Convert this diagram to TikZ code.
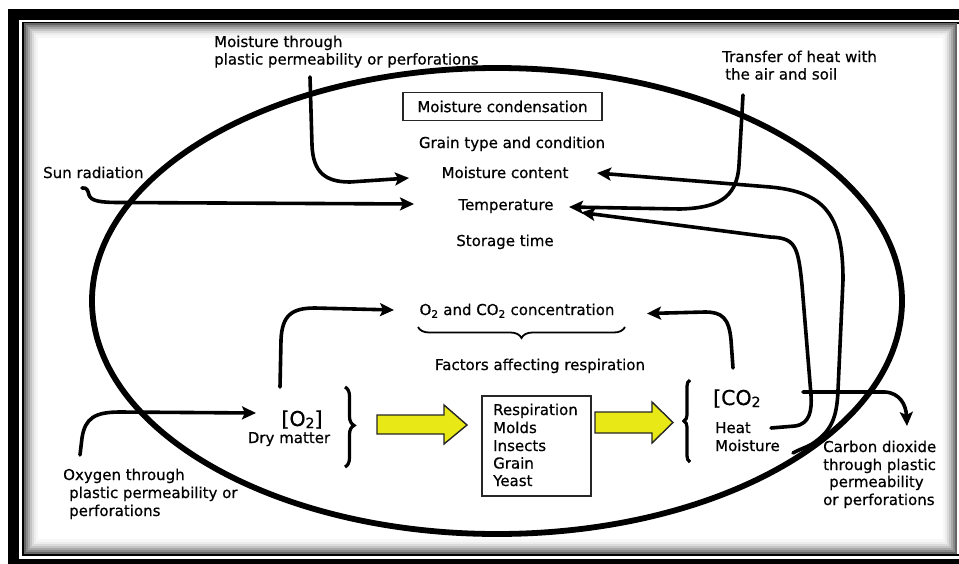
\documentclass[tikz,border=0pt]{standalone}
\usepackage{fontspec}
\setmainfont{DejaVu Sans}[UprightFeatures={FakeBold=0.6}]
\usetikzlibrary{arrows.meta,decorations.pathreplacing}
\definecolor{arrowyellow}{RGB}{232,232,22}
\tikzset{
  lbl/.style={inner sep=0pt, font=\fontsize{15}{17.7}\selectfont},
  biglbl/.style={inner sep=0pt, font=\fontsize{20.5}{22}\selectfont},
  conn/.style={line width=3.6pt, line cap=round, line join=round,
    -{Stealth[length=14pt,width=13pt,inset=3pt]}},
  yarrow/.style={fill=arrowyellow, draw=black!85, line width=1.4pt, line join=miter},
  boxframe/.style={draw=black!85, line width=1.6pt}
}
\begin{document}
\begin{tikzpicture}[x=1pt,y=-1pt]
\useasboundingbox (0,0) rectangle (959,563);
\clip (0,0) rectangle (959,563);
\fill[white] (0,0) rectangle (959,563);
% frame
\draw[line width=11pt, black] (13.5,14) rectangle (975,564.5);
\draw[line width=2pt, black] (23,22.5) rectangle (962,554.5);
\foreach \i/\c in {0/60,2/46,4/34,6/23,8/14,10/7,12/3}{
  \draw[line width=2.2pt, black!\c] (25+\i,24.5+\i) rectangle (956-\i,552.5-\i);
}
% ellipse
\draw[line width=5.8pt] (497,301) ellipse [x radius=405, y radius=233];

% text nodes
\node[lbl, anchor=base west] (mtop1) at (214,47) {Moisture through};
\node[lbl, anchor=base west] (mtop2) at (214,64.5) {plastic permeability or perforations};
\node[lbl, anchor=base west] (heat1) at (722,62) {Transfer of heat with};
\node[lbl, anchor=base west] (heat2) at (725,79.5) {the air and soil};
\node[lbl, boxframe, inner xsep=9pt, inner ysep=5pt, minimum width=199pt, minimum height=28pt] (cond) at (502.5,106.5) {Moisture condensation};
\node[lbl, anchor=base] (grain) at (512,148) {Grain type and condition};
\node[lbl, anchor=base] (mc) at (505,178) {Moisture content};
\node[lbl, anchor=base] (temp) at (506,210) {Temperature};
\node[lbl, anchor=base] (stor) at (505,246) {Storage time};
\node[lbl, anchor=base west] (sun) at (43,178) {Sun radiation};
\node[lbl, anchor=base] (conc) at (517,315) {O\textsubscript{2} and CO\textsubscript{2} concentration};
\node[lbl, anchor=base] (fact) at (540,370) {Factors affecting respiration};
\node[biglbl, anchor=base] (o2) at (302,426) {[O\raisebox{-2pt}{\fontsize{14}{14}\selectfont 2}]};
\node[lbl, anchor=base] (dry) at (289,443) {Dry matter};
\node[lbl, boxframe, anchor=north west, minimum width=109pt, minimum height=100pt, inner sep=0pt] (resp) at (481,395) {};
\node[lbl, anchor=base west] (r1) at (493,415) {Respiration};
\node[lbl, anchor=base west] (r2) at (493,433) {Molds};
\node[lbl, anchor=base west] (r3) at (493,451) {Insects};
\node[lbl, anchor=base west] (r4) at (493,468.5) {Grain};
\node[lbl, anchor=base west] (r5) at (493,486) {Yeast};
\node[biglbl, anchor=base west] (co2) at (713,405) {[CO\raisebox{-2pt}{\fontsize{14}{14}\selectfont 2}};
\node[lbl, anchor=base west] (heat) at (715,433) {Heat};
\node[lbl, anchor=base west] (moist) at (715,451) {Moisture};
\node[lbl, anchor=base west] (cd1) at (823,452) {Carbon dioxide};
\node[lbl, anchor=base west] (cd2) at (823,470) {through plastic};
\node[lbl, anchor=base west] (cd3) at (829,487) {permeability};
\node[lbl, anchor=base west] (cd4) at (823,505) {or perforations};
\node[lbl, anchor=base west] (ox1) at (63,480) {Oxygen through};
\node[lbl, anchor=base west] (ox2) at (69,498) {plastic permeability or};
\node[lbl, anchor=base west] (ox3) at (69,516) {perforations};

% braces
\draw[line width=1.8pt, decorate, decoration={brace, amplitude=11pt, mirror, aspect=0.5}] (418,327) -- (625,327);
\draw[line width=3.2pt, decorate, decoration={brace, amplitude=9pt, aspect=0.48}] (345,387) -- (345,467);
\draw[line width=3.2pt, decorate, decoration={brace, amplitude=6pt, aspect=0.5}] (690,462) -- (690,380);

% yellow arrows
\draw[yarrow] (377,415) -- (444,415) -- (444,405) -- (467,425) -- (444,444) -- (444,434) -- (377,434) -- cycle;
\draw[yarrow] (595,412) -- (652,412) -- (652,402) -- (673,422.5) -- (652,443) -- (652,433) -- (595,433) -- cycle;

% named start/end points
\coordinate (mtopS) at (310,77);
\coordinate (mcL) at (409,178);
\coordinate (sunS) at (82,188);
\coordinate (tempL) at (414,204);
\coordinate (heatS) at (743,95);
\coordinate (tempR1) at (569,207);
\coordinate (moistS) at (793,453);
\coordinate (mcR) at (597,173);
\coordinate (heatE) at (771,428);
\coordinate (tempR2) at (581,212.5);
\coordinate (co2S) at (803,392);
\coordinate (cdT) at (907,426);
\coordinate (o2S) at (280,387);
\coordinate (concL) at (394,310);
\coordinate (co2U) at (733,368);
\coordinate (concR) at (647,313.5);
\coordinate (oxS) at (80,455);
\coordinate (o2L) at (256,413);

% connectors
\draw[conn] (mtopS) -- (312,145) .. controls (313,172) and (325,182) .. (350,182) -- (mcL);
\draw[conn] (sunS) .. controls (87,187) and (88,191) .. (89,195) .. controls (91,201) and (100,202.5) .. (120,202.5) -- (tempL);
\draw[conn] (heatS) -- (739,165) .. controls (737,200) and (715,208) .. (680,209) -- (tempR1);
\draw[conn] (moistS) .. controls (800,449) and (805,448) .. (812,444) .. controls (830,432) and (837,420) .. (838,390) -- (843,280) .. controls (843,215) and (825,192) .. (770,187) -- (mcR);
\draw[conn] (heatE) -- (795,426) .. controls (810,424) and (812,410) .. (811,395) -- (802,285) .. controls (798,245) and (795,238) .. (770,237) -- (tempR2);
\draw[conn] (co2S) -- (885,392) .. controls (900,393) and (906,405) .. (cdT);
\draw[conn] (o2S) -- (281,340) .. controls (282,315) and (292,308) .. (315,308) -- (concL);
\draw[conn] (co2U) -- (731,340) .. controls (729,318) and (722,312) .. (705,312) -- (concR);
\draw[conn] (oxS) -- (82,438) .. controls (85,418) and (95,412) .. (120,412) -- (o2L);
\end{tikzpicture}
\end{document}
